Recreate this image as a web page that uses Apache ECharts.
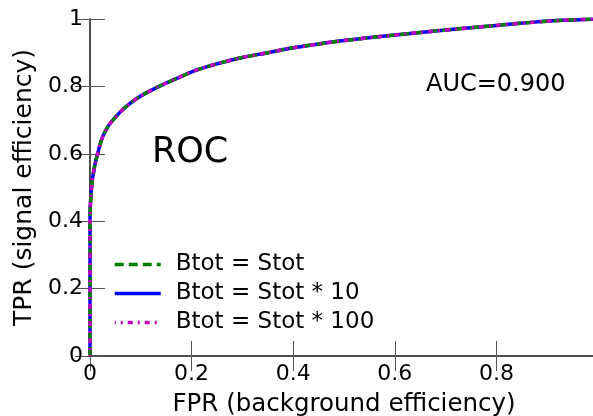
<!DOCTYPE html>
<html>
<head>
<meta charset="utf-8">
<script src="https://cdn.jsdelivr.net/npm/echarts@6/dist/echarts.min.js"></script>
<style>
html,body{margin:0;padding:0;background:#fff;}
#chart{width:593px;height:416px;}
</style>
</head>
<body>
<div id="chart"></div>
<script>
// ROC points
var fpr = [0, 0, 0.0005, 0.002, 0.004, 0.0066, 0.01, 0.015, 0.02, 0.025, 0.035, 0.045, 0.06, 0.071, 0.09, 0.11, 0.136, 0.17, 0.209, 0.25, 0.3, 0.35, 0.394, 0.45, 0.5, 0.571, 0.65, 0.72, 0.8, 0.87, 0.93, 1.0];
var tpr = [0, 0.40, 0.44, 0.48, 0.515, 0.542, 0.57, 0.60, 0.628, 0.651, 0.68, 0.70, 0.725, 0.74, 0.762, 0.78, 0.80, 0.823, 0.848, 0.867, 0.886, 0.90, 0.913, 0.926, 0.936, 0.948, 0.96, 0.97, 0.981, 0.99, 0.996, 1.0];
var seriesNames = ['Btot = Stot', 'Btot = Stot * 10', 'Btot = Stot * 100'];
var seriesColors = ['#008000', '#0000ff', '#bf00bf'];

var font = 'DejaVu Sans';
var points = fpr.map(function(x, i){ return [x, tpr[i]]; });

function fmt(v){
	return (v === 0 || v === 1) ? String(v) : v.toFixed(1);
}

var tickStyle = {show:true, inside:true, length:15, lineStyle:{color:'#555', width:1}};
var lineAxis = {show:true, lineStyle:{color:'#444', width:1.5}};

var myChart = echarts.init(document.getElementById('chart'));
var option = {
	animation:false,
	grid:{left:90, top:19, right:-5, bottom:60, outerBoundsMode:'none'},
	legend:{
		left:108, top:248, orient:'vertical', itemGap:6,
		itemWidth:46, itemHeight:14,
		itemStyle:{opacity:0},
		lineStyle:{width:3.5},
		textStyle:{fontFamily:font, fontSize:23, color:'#000', padding:[0,0,0,10]},
		data:seriesNames
	},
	xAxis:[{
		type:'value', min:0, max:1, interval:0.2,
		name:'FPR (background efficiency)', nameLocation:'middle', nameGap:36,
		nameTextStyle:{fontFamily:font, fontSize:24.5, color:'#000'},
		axisLine:lineAxis,
		axisTick:tickStyle,
		axisLabel:{fontFamily:font, fontSize:22, color:'#000', margin:7, showMaxLabel:false, formatter:fmt},
		splitLine:{show:false}
	},{
		type:'value', min:0, max:1, interval:0.2, position:'top',
		axisLine:lineAxis, axisTick:tickStyle, axisLabel:{show:false}, splitLine:{show:false}
	}],
	yAxis:[{
		type:'value', min:0, max:1, interval:0.2,
		name:'TPR (signal efficiency)', nameLocation:'middle', nameGap:52, nameRotate:90,
		nameTextStyle:{fontFamily:font, fontSize:25, color:'#000'},
		axisLine:lineAxis,
		axisTick:tickStyle,
		axisLabel:{fontFamily:font, fontSize:22, color:'#000', margin:7, formatter:fmt},
		splitLine:{show:false}
	},{
		type:'value', min:0, max:1, interval:0.2, position:'right',
		axisLine:lineAxis, axisTick:tickStyle, axisLabel:{show:false}, splitLine:{show:false}
	}],
	graphic:[
		{type:'text', left:152, top:135, style:{text:'ROC', fontFamily:font, fontSize:35, fill:'#000'}},
		{type:'text', left:426, top:73, style:{text:'AUC=0.900', fontFamily:font, fontSize:24, fill:'#000'}}
	],
	series:[
		{
			name:seriesNames[1], type:'line', data:points, symbol:'none', z:2,
			smooth:0.3,
			lineStyle:{color:seriesColors[1], width:3.5, type:'solid'},
			itemStyle:{color:seriesColors[1]}
		},
		{
			name:seriesNames[0], type:'line', data:points, symbol:'none', z:3,
			smooth:0.3,
			lineStyle:{color:seriesColors[0], width:3.5, type:[9,5]},
			itemStyle:{color:seriesColors[0]}
		},
		{
			name:seriesNames[2], type:'line', data:points, symbol:'none', z:4,
			smooth:0.3,
			lineStyle:{color:seriesColors[2], width:3.5, type:[5,5,2,5], dashOffset:4},
			itemStyle:{color:seriesColors[2]}
		}
	]
};
myChart.setOption(option);
</script>
</body>
</html>
